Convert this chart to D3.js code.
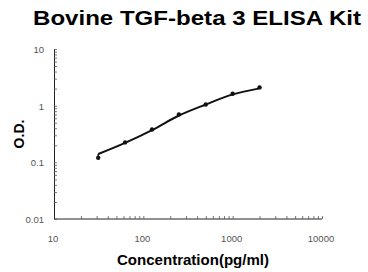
<!DOCTYPE html>
<html>
<head>
<meta charset="utf-8">
<script src="https://cdn.jsdelivr.net/npm/d3@7"></script>
<style>
body { margin: 0; background: #fff; }
</style>
</head>
<body>
<div class="chart"></div>
<script>
// standard points (concentration pg/ml, O.D.)
const conc = [31.25, 62.5, 125, 250, 500, 1000, 2000];
const od = [0.12, 0.225, 0.38, 0.70, 1.05, 1.62, 2.1];
// fitted curve at the same concentrations
const fitOd = [0.14, 0.22, 0.37, 0.67, 1.05, 1.58, 2.02];
const xTicks = [10, 100, 1000, 10000];
const yTicks = [0.01, 0.1, 1, 10];

var margin = {top: 49, right: 46, bottom: 53, left: 54},
    width = 368 - margin.left - margin.right,
    height = 272 - margin.top - margin.bottom;

var svg = d3.select(".chart")
    .append("svg")
    .attr("width", 368)
    .attr("height", 272);

svg.append("text")
    .attr("x", 197)
    .attr("y", 25)
    .attr("text-anchor", "middle")
    .attr("textLength", 328)
    .attr("lengthAdjust", "spacingAndGlyphs")
    .style("font", "bold 21px 'Liberation Sans', Arial, sans-serif")
    .text("Bovine TGF-beta 3 ELISA Kit");

var g = svg.append("g")
    .attr("transform", "translate(" + margin.left + "," + margin.top + ")");

var x = d3.scaleLog().domain([10, 10000]).range([0, width]);
var y = d3.scaleLog().domain([0.01, 10]).range([height, 0]);

// minor ticks, drawn inward
var xMinor = [];
for (let d = 10; d < 10000; d *= 10)
    for (let k = 1; k < 10; k++) xMinor.push(d * k);
var yMinor = [];
for (let d = 0.01; d < 9; d *= 10)
    for (let k = 1; k < 10; k++) yMinor.push(d * k);

var xAxis = g.append("g")
    .attr("transform", "translate(0," + height + ")")
    .call(d3.axisBottom(x).tickValues(xMinor.concat([10000])).tickSize(-3).tickFormat(""));
var yAxis = g.append("g")
    .call(d3.axisLeft(y).tickValues(yMinor.concat([10])).tickSize(-3).tickFormat(""));
[xAxis, yAxis].forEach(a => {
    a.selectAll("path").attr("stroke", "#222").attr("stroke-width", 1);
    a.selectAll("line").attr("stroke", "#555").attr("stroke-width", 0.8);
});
xAxis.select(".domain").attr("d", "M0.5,0H" + width);
yAxis.select(".domain").attr("d", "M0.5,0V" + height);

g.selectAll(".xl")
    .data(xTicks)
    .enter()
    .append("text")
    .attr("x", d => x(d) - 1)
    .attr("y", height + 23)
    .attr("text-anchor", "middle")
    .attr("fill", "#555")
    .style("font", "9.5px 'Liberation Sans', Arial, sans-serif")
    .text(d => d);

g.selectAll(".yl")
    .data(yTicks)
    .enter()
    .append("text")
    .attr("x", -10)
    .attr("y", d => y(d) + 4)
    .attr("text-anchor", "end")
    .attr("fill", "#555")
    .style("font", "9.5px 'Liberation Sans', Arial, sans-serif")
    .text(d => d);

svg.append("text")
    .attr("x", 193)
    .attr("y", 265)
    .attr("text-anchor", "middle")
    .attr("textLength", 152)
    .attr("lengthAdjust", "spacingAndGlyphs")
    .style("font", "bold 14px 'Liberation Sans', Arial, sans-serif")
    .text("Concentration(pg/ml)");

svg.append("text")
    .attr("transform", "translate(24,134) rotate(-90)")
    .attr("text-anchor", "middle")
    .style("font", "bold 14px 'Liberation Sans', Arial, sans-serif")
    .text("O.D.");

var pts = conc.map((c, i) => ({conc: c, od: od[i], fit: fitOd[i]}));

g.append("path")
    .datum(pts)
    .attr("fill", "none")
    .attr("stroke", "#111")
    .attr("stroke-width", 2)
    .attr("d", d3.line()
        .curve(d3.curveMonotoneX)
        .x(d => x(d.conc))
        .y(d => y(d.fit)));

g.append("path")
    .datum(pts.slice(0, 1))
    .attr("stroke", "#111")
    .attr("stroke-width", 1.5)
    .attr("d", d => "M" + x(d[0].conc) + "," + y(d[0].od) + "V" + y(d[0].fit));

g.append("g")
    .selectAll("circle")
    .data(pts)
    .enter()
    .append("circle")
    .attr("cx", d => x(d.conc))
    .attr("cy", d => y(d.od))
    .attr("r", 2.2)
    .attr("fill", "#111");
</script>
</body>
</html>
